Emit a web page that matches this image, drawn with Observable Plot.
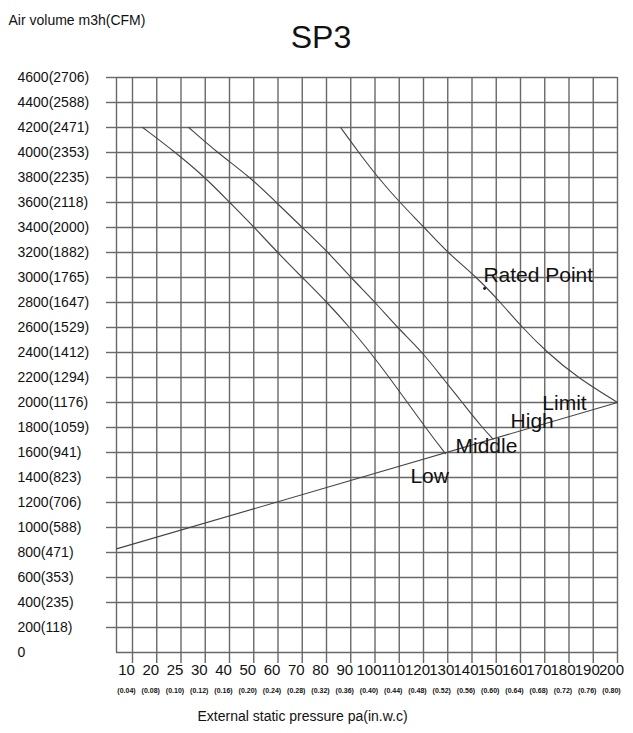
<!DOCTYPE html>
<html>
<head>
<meta charset="utf-8">
<script src="https://cdn.jsdelivr.net/npm/d3@7"></script>
<script src="https://cdn.jsdelivr.net/npm/@observablehq/plot@0.6"></script>
<style>
  html, body { margin: 0; padding: 0; background: #fff; }
  #chart { width: 633px; height: 733px; }
</style>
</head>
<body>
<div id="chart"></div>
<script>
// ---- Data ----
const xTicks = [10, 20, 25, 30, 40, 50, 60, 70, 80, 90, 100, 110, 120, 130, 140, 150, 160, 170, 180, 190, 200];
const xInWc = ["0.04", "0.08", "0.10", "0.12", "0.16", "0.20", "0.24", "0.28", "0.32", "0.36", "0.40",
               "0.44", "0.48", "0.52", "0.56", "0.60", "0.64", "0.68", "0.72", "0.76", "0.80"];
const yTicks = [0, 200, 400, 600, 800, 1000, 1200, 1400, 1600, 1800, 2000, 2200, 2400, 2600, 2800,
                3000, 3200, 3400, 3600, 3800, 4000, 4200, 4400, 4600];
const yCfm = [null, 118, 235, 353, 471, 588, 706, 823, 941, 1059, 1176, 1294, 1412, 1529, 1647,
              1765, 1882, 2000, 2118, 2235, 2353, 2471, 2588, 2706];

const lowPressure = [14.2, 23.9, 30, 40.1, 50.3, 59.8, 70, 80.3, 89.6, 98.1, 105.9, 113.4, 120.8, 129.1];
const lowAir      = [4200, 4000, 3800, 3600, 3400, 3200, 3000, 2800, 2600, 2400, 2200, 2000, 1800, 1590];

const midPressure = [26.6, 34.9, 48.7, 59.3, 70, 80.8, 90, 100.2, 109.2, 119.7, 127.7, 136, 144.2, 148.7];
const midAir      = [4200, 4000, 3800, 3600, 3400, 3200, 3000, 2800, 2600, 2400, 2200, 2000, 1800, 1707];

const highPressure = [85.8, 93.3, 101.2, 110.2, 120.4, 129.8, 142.1, 151.8, 160.7, 171, 183.4, 200];
const highAir      = [4200, 4000, 3800, 3600, 3400, 3200, 3000, 2800, 2600, 2400, 2200, 2000];

const limitPressure = [0, 200];
const limitAir      = [829, 2000];

const ratedPressure = [145.2];
const ratedAir      = [2912];

const labelText     = ["Low", "Middle", "High", "Limit", "Rated Point"];
const labelPressure = [114.6, 133.2, 155.9, 169.0, 144.7];
const labelAir      = [1412, 1652, 1852, 1996, 3016];

// ---- Build tables ----
const series = [
  ...lowPressure.map((p, i) => ({name: "Low", p, q: lowAir[i]})),
  ...midPressure.map((p, i) => ({name: "Middle", p, q: midAir[i]})),
  ...highPressure.map((p, i) => ({name: "High", p, q: highAir[i]}))
];
const limit = limitPressure.map((p, i) => ({p, q: limitAir[i]}));
const rated = ratedPressure.map((p, i) => ({p, q: ratedAir[i]}));
const labels = labelText.map((t, i) => ({t, p: labelPressure[i], q: labelAir[i]}));
const yLab = yTicks.map((v, i) => ({v, t: yCfm[i] == null ? String(v) : `${v}(${yCfm[i]})`}));
const xLab = xTicks.map((v, i) => ({v, t: String(v), s: `(${xInWc[i]})`}));

// ---- Layout ----
const W = 633, H = 733;
const mL = 116, mR = 16, mT = 77, mB = 81;
const R = W - mR;
const firstGap = 16;
const step = (R - mL - firstGap) / 20;
const xDomain = [0, 10, 20, 25, 30, 200];
const xRange = [mL, mL + firstGap, mL + firstGap + step, mL + firstGap + 2 * step, mL + firstGap + 3 * step, R];

const gridColor = "#686868";
const lineColor = "#444";
const font = "'Liberation Sans', Arial, Helvetica, sans-serif";

const chart = Plot.plot({
  width: W,
  height: H,
  marginLeft: mL,
  marginRight: mR,
  marginTop: mT,
  marginBottom: mB,
  style: {fontFamily: font, background: "#fff", color: "#111", overflow: "visible"},
  x: {type: "linear", domain: xDomain, range: xRange, axis: null},
  y: {type: "linear", domain: [0, 4600], axis: null},
  marks: [
    // grid + frame
    Plot.ruleX([0, ...xTicks], {stroke: gridColor, strokeWidth: 1.4}),
    Plot.ruleY(yTicks, {stroke: gridColor, strokeWidth: 1.4}),
    // tick marks
    Plot.axisX(xTicks, {tickSize: 11, tickFormat: () => "", label: null, stroke: gridColor, strokeWidth: 1.4}),
    Plot.axisY(yTicks.filter(d => d > 0), {tickSize: 10, tickFormat: () => "", label: null, stroke: gridColor, strokeWidth: 1.4}),
    // curves
    Plot.line(limit, {x: "p", y: "q", stroke: lineColor, strokeWidth: 1.1}),
    Plot.line(series, {x: "p", y: "q", z: "name", stroke: lineColor, strokeWidth: 1.1, curve: "basis"}),
    Plot.dot(rated, {x: "p", y: "q", r: 1.4, fill: "#111", stroke: null}),
    // curve labels
    Plot.text(labels, {x: "p", y: "q", text: "t", textAnchor: "start", lineAnchor: "middle", fontSize: 21, fill: "#111"}),
    // y tick labels
    Plot.text(yLab, {y: "v", text: "t", frameAnchor: "left", dx: -99, textAnchor: "start", fontSize: 14, fill: "#111"}),
    // x tick labels
    Plot.text(xLab, {x: "v", text: "t", frameAnchor: "bottom", dy: 22, dx: -6, fontSize: 15, fill: "#111"}),
    Plot.text(xLab, {x: "v", text: "s", frameAnchor: "bottom", dy: 40, dx: -6, fontSize: 7, fontWeight: "bold", fill: "#111"}),
    // axis titles and chart title
    Plot.text(["External static pressure pa(in.w.c)"], {frameAnchor: "bottom-left", dx: 81, dy: 68, textAnchor: "start", fontSize: 14, fill: "#111"}),
    Plot.text(["Air volume m3h(CFM)"], {frameAnchor: "top-left", dx: -108, dy: -62, textAnchor: "start", fontSize: 14, fill: "#111"}),
    Plot.text(["SP3"], {frameAnchor: "top", dx: -46, dy: -52, fontSize: 32, fill: "#111"})
  ]
});
document.getElementById("chart").append(chart);
</script>
</body>
</html>
